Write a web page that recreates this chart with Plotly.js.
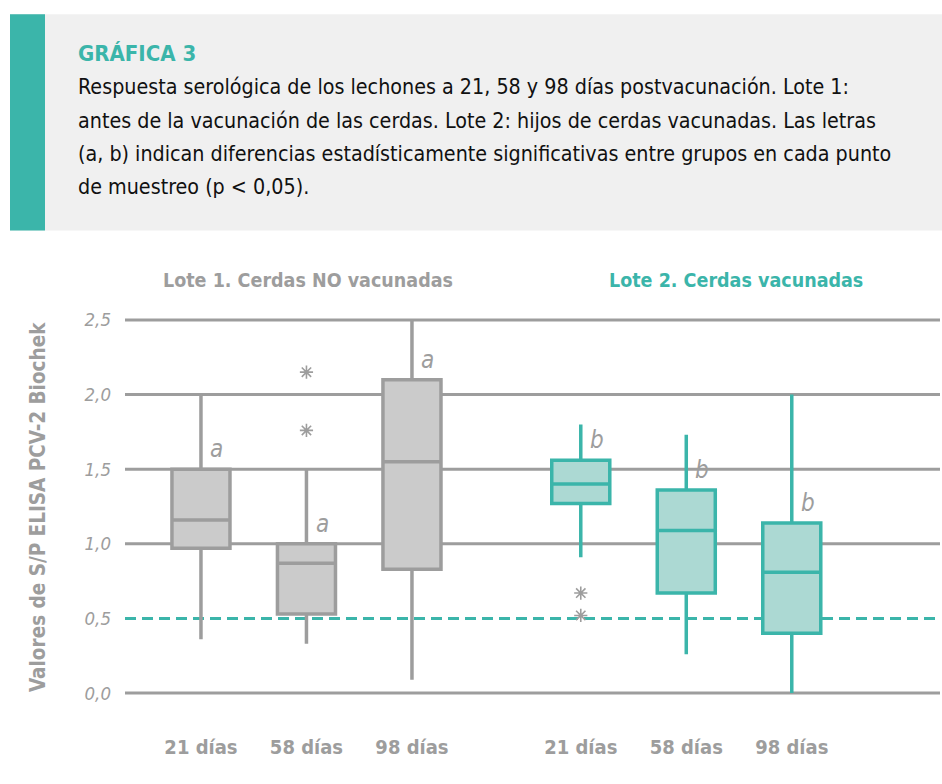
<!DOCTYPE html>
<html>
<head>
<meta charset="utf-8">
<script src="https://cdn.plot.ly/plotly-3.0.1.min.js"></script>
<style>
html,body{margin:0;padding:0;background:#fff;}
#chart{width:942px;height:784px;}
#chart text{font-stretch:condensed !important;}
</style>
</head>
<body>
<div id="chart"></div>
<script>
// ---- data ----
const dayLabels = ['21 días', '58 días', '98 días'];
const groupNames = ['Lote 1. Cerdas NO vacunadas', 'Lote 2. Cerdas vacunadas'];
// Lote 1 (cerdas NO vacunadas)
const lote1Upper  = [2.00, 1.50, 2.50];
const lote1Q3     = [1.50, 1.00, 2.10];
const lote1Median = [1.16, 0.87, 1.55];
const lote1Q1     = [0.97, 0.53, 0.83];
const lote1Lower  = [0.36, 0.33, 0.09];
const lote1Letters = ['a', 'a', 'a'];
// Lote 2 (cerdas vacunadas)
const lote2Upper  = [1.80, 1.73, 2.00];
const lote2Q3     = [1.56, 1.36, 1.14];
const lote2Median = [1.40, 1.09, 0.81];
const lote2Q1     = [1.27, 0.67, 0.40];
const lote2Lower  = [0.91, 0.26, 0.00];
const lote2Letters = ['b', 'b', 'b'];
// outliers: group index, day index, value
const outlierGroup = [0, 0, 1, 1];
const outlierDay   = [1, 1, 0, 0];
const outlierValue = [2.15, 1.76, 0.67, 0.52];
const gridValues = [0, 1.0, 1.5, 2.0, 2.5];
const cutoffValue = 0.5;
const headerTitle = 'GRÁFICA 3';
const headerLines = [
  'Respuesta serológica de los lechones a 21, 58 y 98 días postvacunación. Lote 1:',
  'antes de la vacunación de las cerdas. Lote 2: hijos de cerdas vacunadas. Las letras',
  '(a, b) indican diferencias estadísticamente significativas entre grupos en cada punto',
  'de muestreo (p &lt; 0,05).'
];
const yAxisTitle = 'Valores de S/P ELISA PCV-2 Biochek';

// ---- style ----
const teal = '#3bb5aa', tealFill = '#acd9d3', grey = '#9d9d9d', greyFill = '#cbcbcb';
const COND = '"DejaVu Sans Condensed", "DejaVu Sans", sans-serif';
const groupGap = 3.6;
const pos = (g, i) => i + g * groupGap;

const W = 942, H = 784, mL = 125, mR = 2, mT = 305.3, mB = 76.4;
const pw = W - mL - mR, ph = H - mT - mB;
const px2paperX = px => (px - mL) / pw;
const px2paperY = py => 1 - (py - mT) / ph;

const groups = [
  {upper: lote1Upper, q3: lote1Q3, med: lote1Median, q1: lote1Q1, lower: lote1Lower, letters: lote1Letters, line: grey, fill: greyFill},
  {upper: lote2Upper, q3: lote2Q3, med: lote2Median, q1: lote2Q1, lower: lote2Lower, letters: lote2Letters, line: teal, fill: tealFill}
];

const traces = groups.map((g, gi) => ({
  type: 'box',
  x: dayLabels.map((_, i) => pos(gi, i)),
  q1: g.q1, median: g.med, q3: g.q3, lowerfence: g.lower, upperfence: g.upper,
  boxpoints: false, whiskerwidth: 0, width: 0.55,
  line: {color: g.line, width: 3.5}, fillcolor: g.fill,
  hoverinfo: 'skip', showlegend: false
}));
traces.push({
  type: 'scatter', mode: 'markers',
  x: outlierGroup.map((g, k) => pos(g, outlierDay[k])),
  y: outlierValue,
  marker: {symbol: 'asterisk-open', size: 11, line: {color: grey, width: 1.6}, color: grey},
  hoverinfo: 'skip', showlegend: false
});

const shapes = [];
shapes.push({type: 'rect', xref: 'paper', yref: 'paper', x0: px2paperX(10), x1: px2paperX(942), y0: px2paperY(231), y1: px2paperY(15), fillcolor: '#f0f0f0', line: {width: 0}, layer: 'below'});
shapes.push({type: 'rect', xref: 'paper', yref: 'paper', x0: px2paperX(10), x1: px2paperX(45), y0: px2paperY(231), y1: px2paperY(15), fillcolor: teal, line: {width: 0}, layer: 'below'});
gridValues.forEach(v => shapes.push({type: 'line', xref: 'paper', yref: 'y', x0: 0, x1: 1, y0: v, y1: v, line: {color: grey, width: 3}, layer: 'below'}));
shapes.push({type: 'line', xref: 'paper', yref: 'y', x0: 0, x1: 1, y0: cutoffValue, y1: cutoffValue, line: {color: teal, width: 3, dash: '11px,6px'}, layer: 'below'});

const annotations = [];
groups.forEach((g, gi) => g.letters.forEach((L, i) => annotations.push({
  x: pos(gi, i), y: g.q3[i], xref: 'x', yref: 'y', text: L, showarrow: false,
  xshift: 16, yshift: 20, font: {family: COND, size: 24, color: grey, style: 'italic'}
})));
annotations.push({xref: 'paper', yref: 'paper', x: px2paperX(307.5), y: px2paperY(281), text: groupNames[0], showarrow: false, xanchor: 'center', yanchor: 'middle', font: {family: COND, size: 19.5, color: grey, weight: 'bold'}});
annotations.push({xref: 'paper', yref: 'paper', x: px2paperX(735.5), y: px2paperY(281), text: groupNames[1], showarrow: false, xanchor: 'center', yanchor: 'middle', font: {family: COND, size: 19.5, color: teal, weight: 'bold'}});
annotations.push({xref: 'paper', yref: 'paper', x: px2paperX(38), y: px2paperY(507), text: yAxisTitle, textangle: -90, showarrow: false, xanchor: 'center', yanchor: 'middle', font: {family: COND, size: 20.5, color: grey, weight: 'bold'}});
const lineCenters = [87, 121, 154, 187];
headerLines.forEach((t, k) => annotations.push({xref: 'paper', yref: 'paper', x: px2paperX(76), y: px2paperY(lineCenters[k]), text: t, showarrow: false, xanchor: 'left', yanchor: 'middle', align: 'left', font: {family: COND, size: 21.3, color: '#111111'}}));

const layout = {
  width: W, height: H,
  margin: {l: mL, r: mR, t: mT, b: mB, pad: 0},
  paper_bgcolor: '#ffffff', plot_bgcolor: 'rgba(0,0,0,0)',
  separators: ', ',
  boxmode: 'overlay',
  title: {text: headerTitle, xref: 'container', yref: 'container', x: 78 / W, xanchor: 'left', y: 1 - 53 / H, yanchor: 'middle', font: {family: COND, size: 22, color: teal, weight: 'bold'}},
  xaxis: {range: [-0.72, 7.005], tickvals: [0,1,2].map(i => pos(0, i)).concat([0,1,2].map(i => pos(1, i))), ticktext: dayLabels.concat(dayLabels), showgrid: false, zeroline: false, showline: false, ticks: '', ticklabelstandoff: 25, tickfont: {family: COND, size: 20, color: grey, weight: 'bold'}},
  yaxis: {range: [-0.1, 2.6], tickvals: [0, 0.5, 1, 1.5, 2, 2.5], tickformat: '.1f', showgrid: false, zeroline: false, showline: false, ticks: '', ticklabelstandoff: 13, tickfont: {family: COND, size: 18.5, color: grey, style: 'italic'}},
  shapes: shapes, annotations: annotations
};

Plotly.newPlot('chart', traces, layout, {displayModeBar: false, staticPlot: true});
</script>
</body>
</html>
